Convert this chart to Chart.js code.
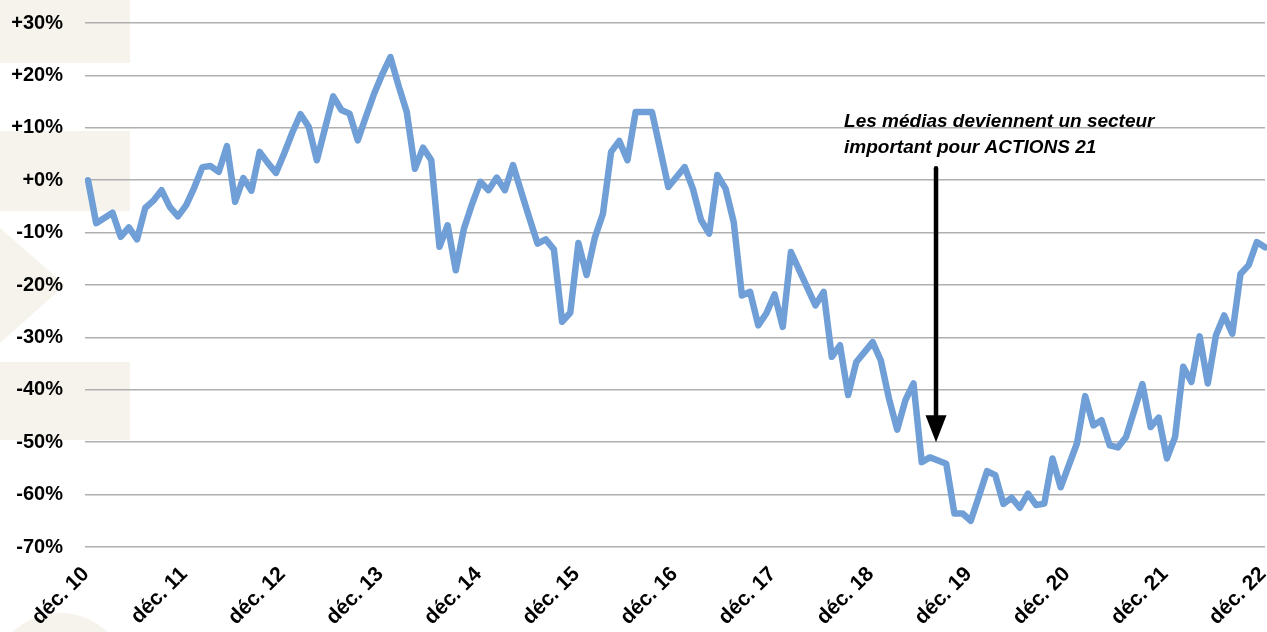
<!DOCTYPE html>
<html>
<head>
<meta charset="utf-8">
<script src="https://cdn.jsdelivr.net/npm/chart.js@4.4.1/dist/chart.umd.min.js"></script>
<style>
  html, body { margin: 0; padding: 0; background: #fff; }
</style>
</head>
<body>
<canvas id="chart" width="1267" height="632"></canvas>
<script>
// Performance mensuelle (en %), déc. 2010 -> déc. 2022
const perf = [
    0, -8.2, -7.2, -6.2, -10.8, -9, -11.3, -5.3, -3.9, -1.9,
    -5.1, -6.9, -4.8, -1.4, 2.5, 2.7, 1.6, 6.5, -4.1, 0.4,
    -2, 5.4, 3.3, 1.4, 5.1, 9.1, 12.6, 10.2, 3.8, 9.9,
    16, 13.4, 12.7, 7.6, 12.1, 16.5, 20.2, 23.5, 18, 13,
    2.2, 6.2, 3.8, -12.7, -8.6, -17.2, -9.2, -4.5, -0.3, -1.9,
    0.5, -1.9, 2.9, -2.2, -7.2, -12.1, -11.3, -13.2, -27, -25.3,
    -12, -18.1, -11, -6.4, 5.4, 7.5, 3.8, 13, 13, 13,
    5.9, -1.3, 0.6, 2.5, -1.6, -7.6, -10.2, 1, -1.6, -8,
    -22, -21.3, -27.7, -25.4, -21.8, -28, -13.7, -17.1, -20.5, -23.9,
    -21.3, -33.7, -31.5, -41, -34.7, -32.8, -30.9, -34.4, -41.7, -47.6,
    -42, -38.8, -53.8, -52.9, -53.5, -54.1, -63.6, -63.6, -65, -60.3,
    -55.5, -56.3, -61.8, -60.6, -62.5, -59.8, -62, -61.7, -53.1, -58.6,
    -54.4, -50.2, -41.2, -46.8, -45.8, -50.6, -51, -49, -44, -38.9,
    -47.1, -45.3, -53.1, -49, -35.6, -38.5, -29.8, -38.8, -29.6, -25.8,
    -29.3, -17.9, -16.2, -11.8, -12.8
];

// one label per year (every 12th month)
const yearTicks = ['déc. 10', 'déc. 11', 'déc. 12', 'déc. 13', 'déc. 14', 'déc. 15', 'déc. 16',
                   'déc. 17', 'déc. 18', 'déc. 19', 'déc. 20', 'déc. 21', 'déc. 22'];

const yMin = -70;
const yMax = 30;
const yStep = 10;

// annotation (in data units: month index / %)
const noteLines = ['Les médias deviennent un secteur', 'important pour ACTIONS 21'];
const noteAt = 92.5;
const noteRows = [10.1, 5.1];
const arrowAt = 103.75;
const arrowFrom = 2.3;
const arrowTo = -50;

const categories = perf.map((v, i) => (i % 12 === 0 ? yearTicks[i / 12] : ''));

const FONT = '"Liberation Sans", Arial, sans-serif';

// beige decoration behind the chart
const backdrop = {
    id: 'backdrop',
    beforeDraw(chart) {
        const ctx = chart.ctx;
        ctx.save();
        ctx.fillStyle = '#ffffff';
        ctx.fillRect(0, 0, chart.width, chart.height);
        ctx.fillStyle = '#f5f3eb';
        ctx.fillRect(0, 0, 130, 63);
        ctx.fillRect(0, 131, 130, 80);
        ctx.fillRect(0, 362, 130, 78);
        ctx.beginPath();
        ctx.moveTo(0, 228);
        ctx.lineTo(65, 285);
        ctx.lineTo(0, 343);
        ctx.closePath();
        ctx.fill();
        ctx.beginPath();
        ctx.arc(60, 682, 69, 0, Math.PI * 2);
        ctx.fill();
        ctx.restore();
    }
};

// text + arrow
const note = {
    id: 'note',
    afterDatasetsDraw(chart) {
        const ctx = chart.ctx;
        const x = chart.scales.x;
        const y = chart.scales.y;
        ctx.save();
        ctx.fillStyle = '#000';
        ctx.font = 'italic bold 19px ' + FONT;
        ctx.textBaseline = 'alphabetic';
        noteLines.forEach((line, i) => {
            ctx.fillText(line, x.getPixelForValue(noteAt), y.getPixelForValue(noteRows[i]));
        });

        const ax = x.getPixelForValue(arrowAt);
        const top = y.getPixelForValue(arrowFrom);
        const tip = y.getPixelForValue(arrowTo);
        ctx.strokeStyle = '#000';
        ctx.lineWidth = 4.5;
        ctx.lineCap = 'round';
        ctx.beginPath();
        ctx.moveTo(ax, top);
        ctx.lineTo(ax, tip - 20);
        ctx.stroke();
        ctx.beginPath();
        ctx.moveTo(ax - 10.5, tip - 27);
        ctx.lineTo(ax + 10.5, tip - 27);
        ctx.lineTo(ax, tip);
        ctx.closePath();
        ctx.fill();
        ctx.restore();
    }
};

const ctx = document.getElementById('chart').getContext('2d');
new Chart(ctx, {
    type: 'line',
    data: {
        labels: categories,
        datasets: [{
            data: perf,
            borderColor: '#6f9fd6',
            borderWidth: 6.5,
            borderJoinStyle: 'round',
            borderCapStyle: 'round',
            pointRadius: 0,
            tension: 0,
            fill: false
        }]
    },
    options: {
        responsive: false,
        animation: false,
        layout: { padding: { top: 23, right: 2, left: 0, bottom: 0 } },
        plugins: {
            legend: { display: false },
            tooltip: { enabled: false }
        },
        scales: {
            x: {
                offset: false,
                grid: { display: false, drawTicks: false },
                border: { display: false },
                ticks: {
                    autoSkip: false,
                    minRotation: 45,
                    maxRotation: 45,
                    padding: 15,
                    labelOffset: -2,
                    color: '#000',
                    font: { family: FONT, size: 21, weight: 'bold' }
                },
                afterFit(scale) {
                    scale.height = 85;
                    scale.paddingLeft = 0;
                    scale.paddingRight = 0;
                }
            },
            y: {
                min: yMin,
                max: yMax,
                grid: { color: '#b0b0b0', lineWidth: 1.5, drawTicks: true, tickLength: 3 },
                border: { display: false },
                ticks: {
                    stepSize: yStep,
                    padding: 22,
                    color: '#000',
                    font: { family: FONT, size: 20, weight: 'bold' },
                    callback: v => (v >= 0 ? '+' : '') + v + '%'
                },
                afterFit(scale) {
                    scale.width = 88;
                    scale.paddingTop = 0;
                    scale.paddingBottom = 0;
                }
            }
        }
    },
    plugins: [backdrop, note]
});
</script>
</body>
</html>
